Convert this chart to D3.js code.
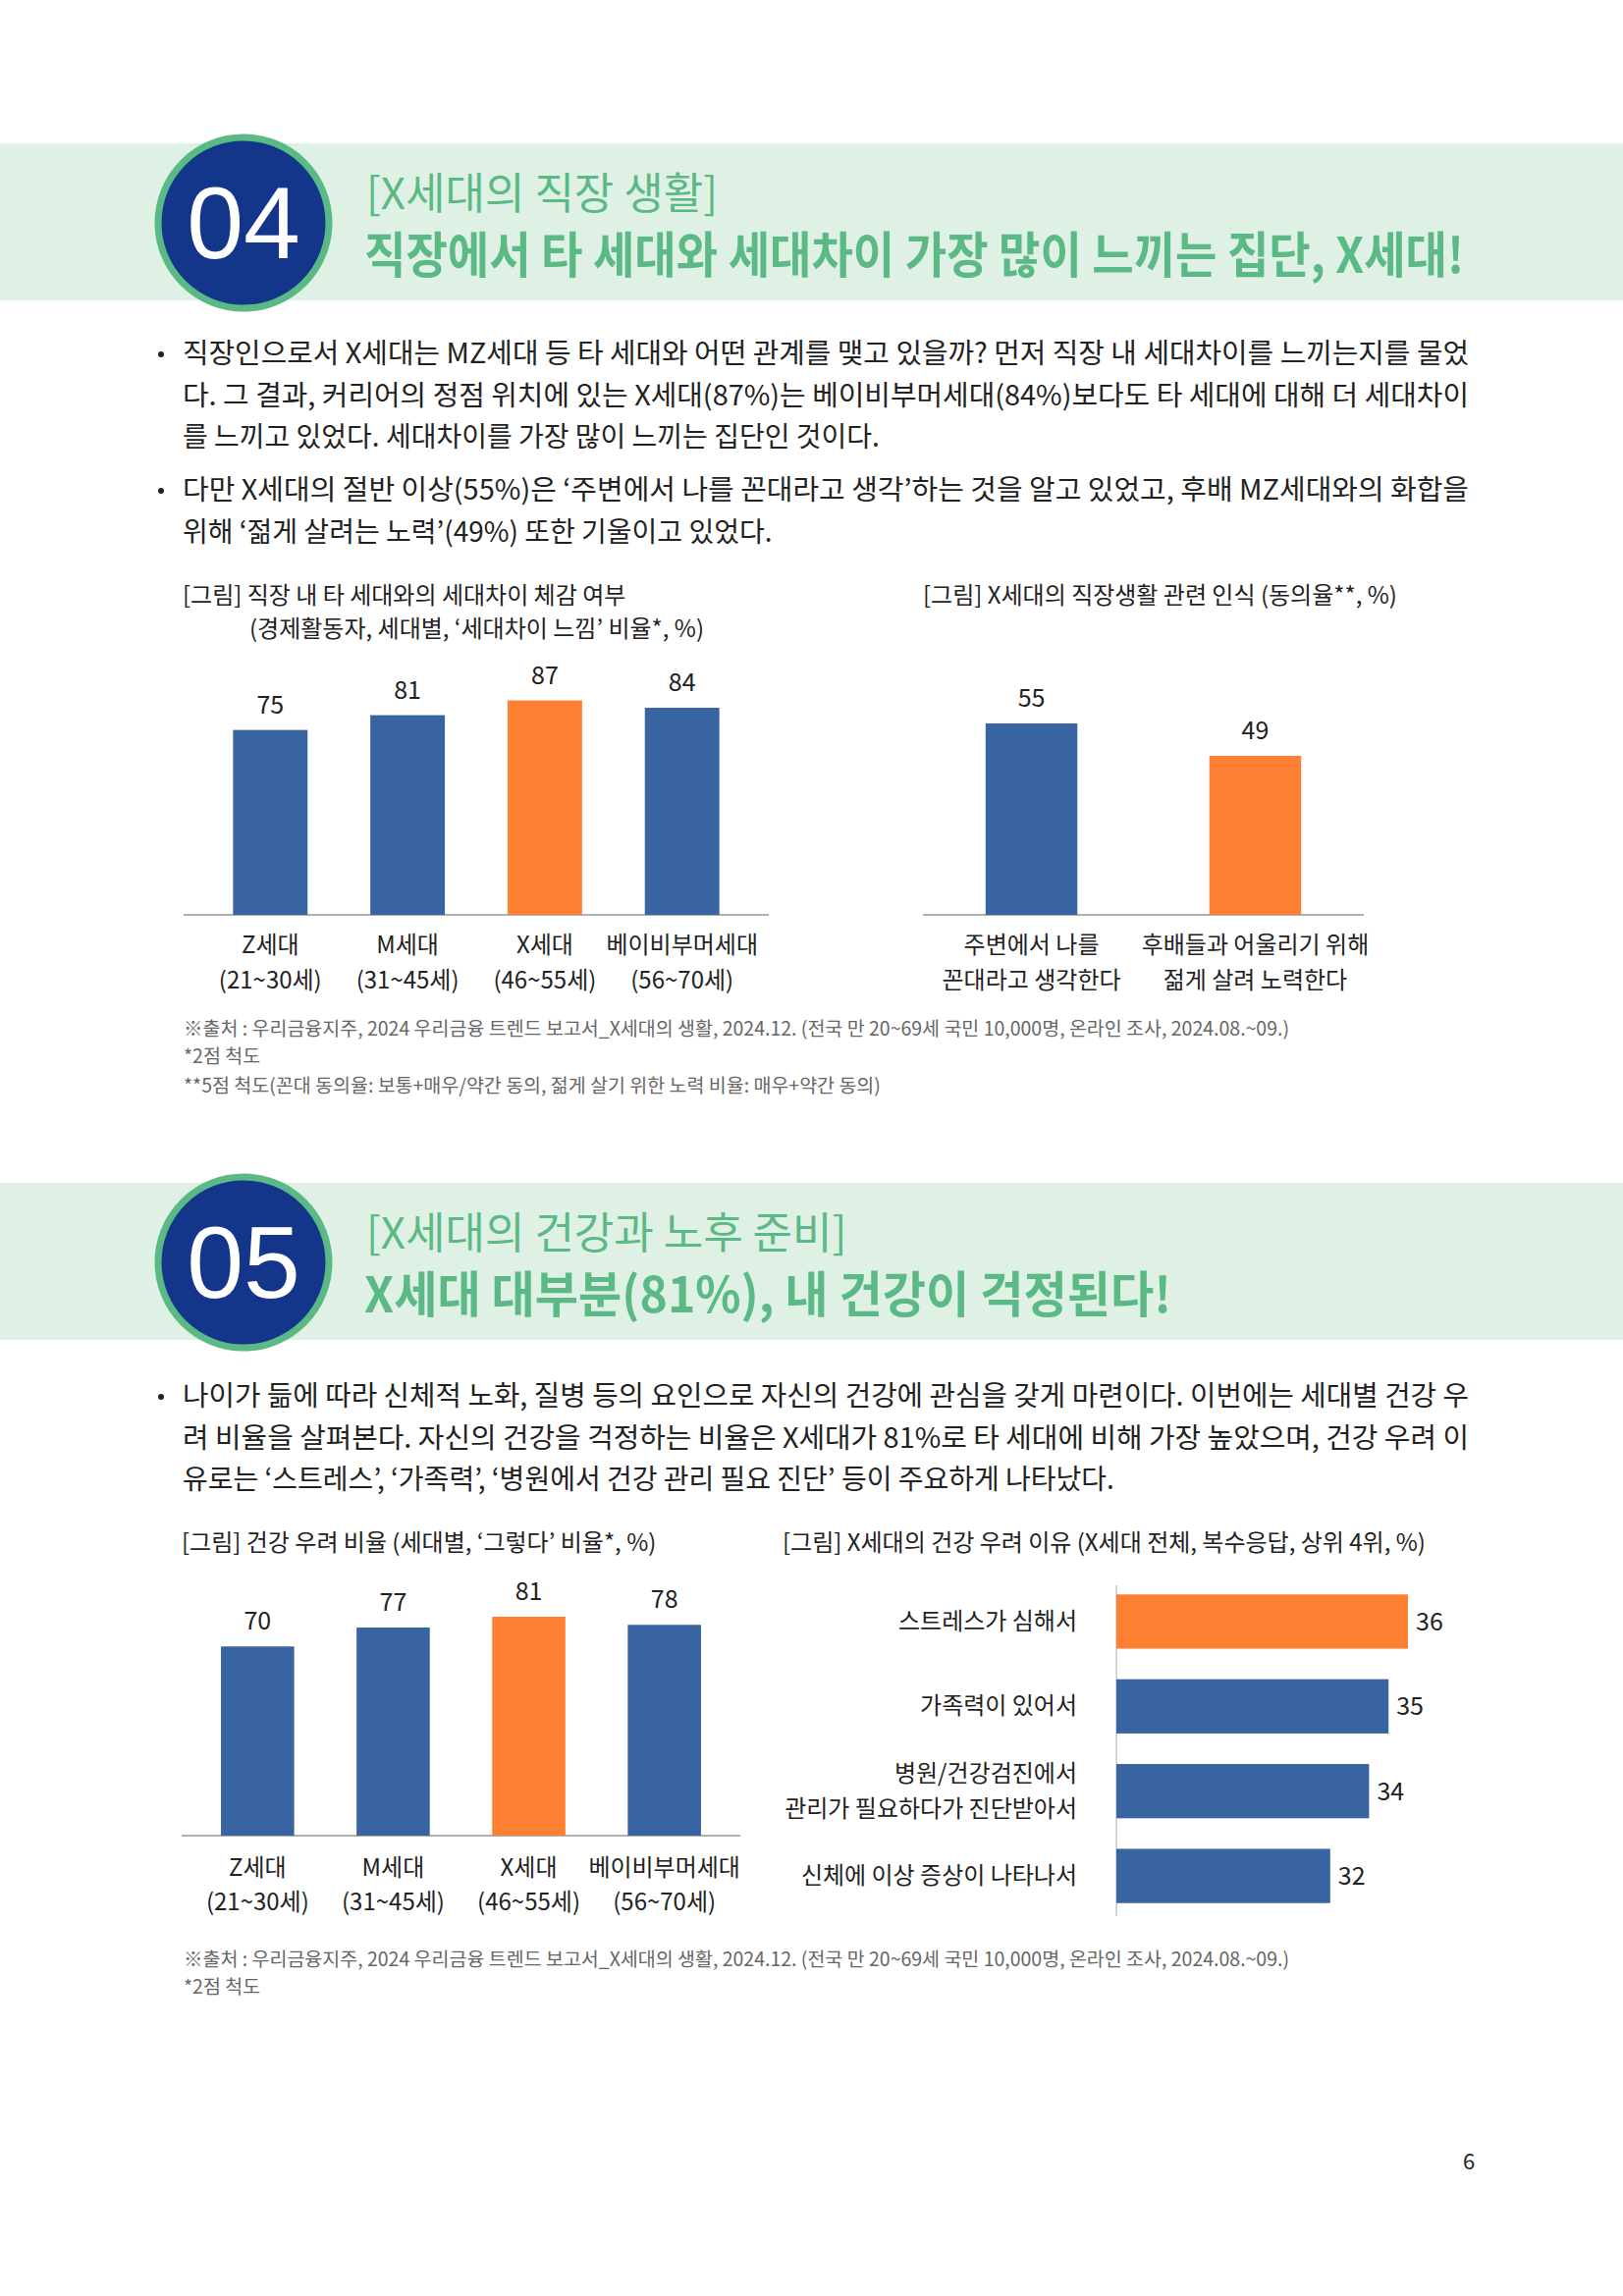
<!DOCTYPE html>
<html><head><meta charset="utf-8">
<script src="https://cdn.jsdelivr.net/npm/d3@7"></script>
<style>body{margin:0;background:#fff}svg{display:block}text{font-family:"Noto Sans CJK KR","Noto Sans",sans-serif}</style>
</head><body>
<script>
// chart data
const genCats = ["Z세대", "M세대", "X세대", "베이비부머세대"];
const genAges = ["(21~30세)", "(31~45세)", "(46~55세)", "(56~70세)"];
const gapValues = [75, 81, 87, 84];
const attCats = [["주변에서 나를", "꼰대라고 생각한다"], ["후배들과 어울리기 위해", "젊게 살려 노력한다"]];
const attValues = [55, 49];
const healthValues = [70, 77, 81, 78];
const reasonCats = [["스트레스가 심해서"], ["가족력이 있어서"], ["병원/건강검진에서", "관리가 필요하다가 진단받아서"], ["신체에 이상 증상이 나타나서"]];
const reasonValues = [36, 35, 34, 32];

const BLUE = "#3865a1", ORANGE = "#fe8133", GREEN = "#5bb986", BAND = "#dff0e5", NAVY = "#13358a";
const W = 1653, H = 2339;
const svg = d3.select("body").append("svg").attr("width", W).attr("height", H);

// section header band + circle number
let header = (y, num, sub, title, tw) => {
    svg.append("rect").attr("x", 0).attr("y", y).attr("width", W).attr("height", 160).attr("fill", BAND);
    svg.append("circle").attr("cx", 248).attr("cy", y + 81).attr("r", 87).attr("fill", NAVY).attr("stroke", GREEN).attr("stroke-width", 7);
    svg.append("text").attr("x", 248).attr("y", y + 117).attr("text-anchor", "middle").attr("fill", "#fff")
        .style("font-size", "104px").style("font-family", "Liberation Sans,Arial").text(num);
    svg.append("text").attr("x", 373).attr("y", y + 67).attr("fill", GREEN).style("font-size", "44px").text(sub);
    svg.append("text").attr("x", 371).attr("y", y + 132).attr("fill", GREEN).style("font-size", "50px").style("font-weight", "bold")
        .attr("textLength", tw).attr("lengthAdjust", "spacingAndGlyphs").text(title);
}

let bullets = (items) => {
    items.forEach(({ y, lines }) => {
        svg.append("circle").attr("cx", 164).attr("cy", y - 9).attr("r", 3).attr("fill", "#222");
        lines.forEach((l, i) => {
            svg.append("text").attr("x", 186).attr("y", y + i * 42.5).attr("fill", "#222").style("font-size", "28px")
                .attr("textLength", l.w || null).attr("lengthAdjust", "spacingAndGlyphs").text(l.t);
        });
    });
}

let txt = (x, y, s, size, fill, anchor) => svg.append("text").attr("x", x).attr("y", y).attr("fill", fill || "#222")
    .attr("text-anchor", anchor || "start").style("font-size", size + "px").text(s);

// vertical bar chart, returns the band scale
let vbars = (x0, x1, axisY, vals, y, band, hl) => {
    const x = d3.scaleBand().domain(d3.range(vals.length)).range([x0, x1]).paddingInner(band.inner).paddingOuter(band.outer);
    svg.append("line").attr("x1", x0).attr("x2", x1).attr("y1", axisY).attr("y2", axisY).attr("stroke", "#b0b0b0").attr("stroke-width", 2);
    svg.selectAll(null).data(vals).enter().append("rect")
        .attr("x", (d, i) => x(i)).attr("width", x.bandwidth())
        .attr("y", d => y(d)).attr("height", d => axisY - y(d))
        .attr("fill", (d, i) => i === hl ? ORANGE : BLUE);
    svg.selectAll(null).data(vals).enter().append("text")
        .attr("x", (d, i) => x(i) + x.bandwidth() / 2).attr("y", d => y(d) - 17)
        .attr("text-anchor", "middle").style("font-size", "25px").attr("fill", "#222").text(d => d);
    return x;
}

// ---------- section 04 ----------
header(146, "04", "[X세대의 직장 생활]", "직장에서 타 세대와 세대차이 가장 많이 느끼는 집단, X세대!", 1120);
bullets([
    { y: 370, lines: [{ t: "직장인으로서 X세대는 MZ세대 등 타 세대와 어떤 관계를 맺고 있을까? 먼저 직장 내 세대차이를 느끼는지를 물었", w: 1310 },
        { t: "다. 그 결과, 커리어의 정점 위치에 있는 X세대(87%)는 베이비부머세대(84%)보다도 타 세대에 대해 더 세대차이", w: 1310 },
        { t: "를 느끼고 있었다. 세대차이를 가장 많이 느끼는 집단인 것이다." }] },
    { y: 509, lines: [{ t: "다만 X세대의 절반 이상(55%)은 ‘주변에서 나를 꼰대라고 생각’하는 것을 알고 있었고, 후배 MZ세대와의 화합을", w: 1310 },
        { t: "위해 ‘젊게 살려는 노력’(49%) 또한 기울이고 있었다." }] }
]);

txt(186, 615, "[그림] 직장 내 타 세대와의 세대차이 체감 여부", 24);
txt(254, 649, "(경제활동자, 세대별, ‘세대차이 느낌’ 비율*, %)", 24);
txt(940, 615, "[그림] X세대의 직장생활 관련 인식 (동의율**, %)", 24);

const y1 = d3.scaleLinear().domain([0, 87]).range([932, 713.5]);
const xg1 = vbars(187, 783, 932, gapValues, y1, { inner: 0.457, outer: 0.36 }, 2);
genCats.forEach((c, i) => {
    const cx = xg1(i) + xg1.bandwidth() / 2;
    txt(cx, 971, c, 24, "#222", "middle");
    txt(cx, 1007, genAges[i], 24, "#222", "middle");
});

const y2 = d3.scaleLinear().domain([19.5, 55]).range([932, 737]);
const xg2 = vbars(940, 1389, 932, attValues, y2, { inner: 0.59, outer: 0.28 }, 1);
attCats.forEach((c, i) => {
    const cx = xg2(i) + xg2.bandwidth() / 2;
    txt(cx, 971, c[0], 24, "#222", "middle");
    txt(cx, 1007, c[1], 24, "#222", "middle");
});

txt(187, 1055, "※출처 : 우리금융지주, 2024 우리금융 트렌드 보고서_X세대의 생활, 2024.12. (전국 만 20~69세 국민 10,000명, 온라인 조사, 2024.08.~09.)", 19.5, "#666");
txt(187, 1083, "*2점 척도", 19.5, "#666");
txt(187, 1113, "**5점 척도(꼰대 동의율: 보통+매우/약간 동의, 젊게 살기 위한 노력 비율: 매우+약간 동의)", 19.5, "#666");

// ---------- section 05 ----------
header(1205, "05", "[X세대의 건강과 노후 준비]", "X세대 대부분(81%), 내 건강이 걱정된다!", 822);
bullets([
    { y: 1432, lines: [{ t: "나이가 듦에 따라 신체적 노화, 질병 등의 요인으로 자신의 건강에 관심을 갖게 마련이다. 이번에는 세대별 건강 우", w: 1310 },
        { t: "려 비율을 살펴본다. 자신의 건강을 걱정하는 비율은 X세대가 81%로 타 세대에 비해 가장 높았으며, 건강 우려 이", w: 1310 },
        { t: "유로는 ‘스트레스’, ‘가족력’, ‘병원에서 건강 관리 필요 진단’ 등이 주요하게 나타났다." }] }
]);

txt(185, 1580, "[그림] 건강 우려 비율 (세대별, ‘그렇다’ 비율*, %)", 24);
txt(797, 1580, "[그림] X세대의 건강 우려 이유 (X세대 전체, 복수응답, 상위 4위, %)", 24);

const y3 = d3.scaleLinear().domain([0, 81]).range([1870, 1647]);
const xg3 = vbars(185, 754, 1870, healthValues, y3, { inner: 0.46, outer: 0.29 }, 2);
genCats.forEach((c, i) => {
    const cx = xg3(i) + xg3.bandwidth() / 2;
    txt(cx, 1911, c, 24, "#222", "middle");
    txt(cx, 1946, genAges[i], 24, "#222", "middle");
});

// horizontal bars
const hx = d3.scaleLinear().domain([21, 36]).range([1137, 1434]);
const hy = d3.scaleBand().domain(d3.range(4)).range([1607, 1956]).paddingInner(0.36).paddingOuter(0.2);
svg.append("line").attr("x1", 1137).attr("x2", 1137).attr("y1", 1615).attr("y2", 1952).attr("stroke", "#c8c8c8").attr("stroke-width", 1.5);
svg.selectAll(null).data(reasonValues).enter().append("rect")
    .attr("x", 1137).attr("y", (d, i) => hy(i)).attr("height", hy.bandwidth())
    .attr("width", d => hx(d) - 1137).attr("fill", (d, i) => i === 0 ? ORANGE : BLUE);
svg.selectAll(null).data(reasonValues).enter().append("text")
    .attr("x", d => hx(d) + 8).attr("y", (d, i) => hy(i) + hy.bandwidth() / 2 + 9)
    .style("font-size", "25px").attr("fill", "#222").text(d => d);
reasonCats.forEach((c, i) => {
    const cy = hy(i) + hy.bandwidth() / 2 + 8 - (c.length - 1) * 18;
    c.forEach((l, j) => txt(1097, cy + j * 36, l, 24, "#222", "end"));
});

txt(187, 2003, "※출처 : 우리금융지주, 2024 우리금융 트렌드 보고서_X세대의 생활, 2024.12. (전국 만 20~69세 국민 10,000명, 온라인 조사, 2024.08.~09.)", 19.5, "#666");
txt(187, 2031, "*2점 척도", 19.5, "#666");

txt(1496, 2210, "6", 22, "#222", "middle");
</script>
</body></html>
